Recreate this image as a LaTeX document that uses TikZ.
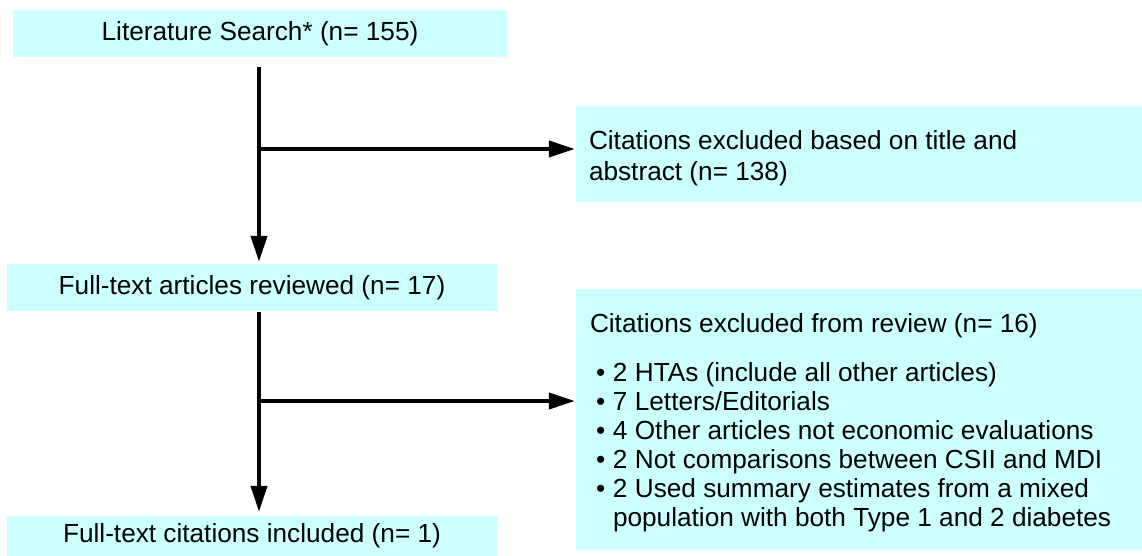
\documentclass[tikz,border=0pt]{standalone}
\usepackage{fontspec}
\setmainfont{Liberation Sans}
\usetikzlibrary{arrows.meta}
\definecolor{boxcyan}{RGB}{204,255,255}
\newcommand{\bitem}[1]{\hspace*{6pt}\makebox[17pt][l]{\textbullet}#1}
\begin{document}
\begin{tikzpicture}[x=1pt,y=1pt,
  box/.style={fill=boxcyan, draw=none, inner sep=0pt, font=\fontsize{26.2}{29}\selectfont},
  arr/.style={line width=4pt, -{Triangle[length=26pt,width=16pt]}}]
\useasboundingbox (0,0) rectangle (1142,556);
\node[box, minimum width=494pt, minimum height=47pt] (b1) at (260,522.5) {Literature Search* (n= 155)};
\node[box, minimum width=566pt, minimum height=96pt, inner xsep=13pt, font=\fontsize{26.2}{31}\selectfont] (b2) at (859,402)
  {\parbox[c][96pt][t]{540pt}{\raggedright\vspace*{25pt}Citations excluded based on title and\\abstract (n= 138)}};
\node[box, minimum width=490pt, minimum height=47pt] (b3) at (252,268.5) {Full-text articles reviewed (n= 17)};
\node[box, minimum width=566pt, minimum height=261pt, inner xsep=14pt] (b4) at (859,136.5)
  {\parbox[c][261pt][t]{538pt}{\raggedright\vspace*{25pt}Citations excluded from review (n= 16)\\[20pt]
   \bitem{2 HTAs (include all other articles)}\\
   \bitem{7 Letters/Editorials}\\
   \bitem{4 Other articles not economic evaluations}\\
   \bitem{2 Not comparisons between CSII and MDI}\\
   \bitem{2 Used summary estimates from a mixed}\\
   \hspace*{23pt}population with both Type 1 and 2 diabetes}};
\node[box, minimum width=490pt, minimum height=40pt] (b5) at (252,20) {Full-text citations included (n= 1)};
\coordinate (j1) at (259,407);
\coordinate (j2) at (259,155);
\draw[arr, shorten <=10pt, shorten >=2pt] (b1.south -| j1) -- (b3.north -| j1);
\draw[arr, shorten >=1pt] (j1) -- (b2.west |- j1);
\draw[arr, shorten <=1pt, shorten >=4pt] (b3.south -| j2) -- (b5.north -| j2);
\draw[arr, shorten >=1pt] (j2) -- (b4.west |- j2);
\end{tikzpicture}
\end{document}
